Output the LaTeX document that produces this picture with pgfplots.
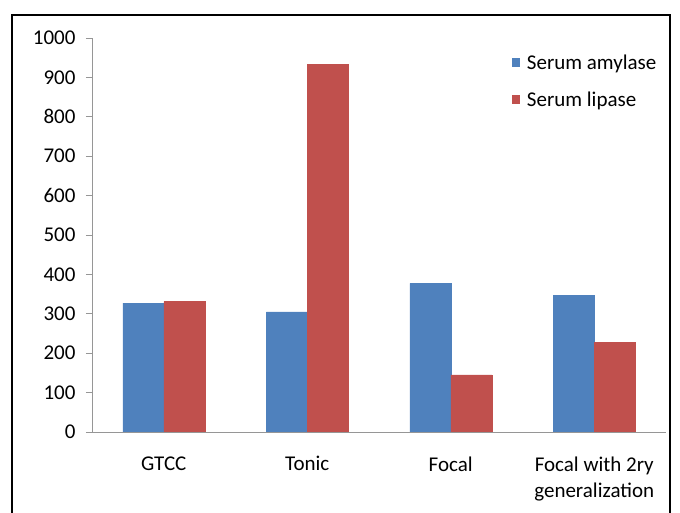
\documentclass[border=0pt]{standalone}
\usepackage{pgfplots}
\pgfplotsset{compat=1.18}
\usepackage{fontspec}
\setmainfont{Carlito}

\definecolor{amyblue}{RGB}{79,129,189}
\definecolor{lipred}{RGB}{192,80,77}
\definecolor{axgray}{RGB}{150,150,150}

\begin{document}
\begin{tikzpicture}
\useasboundingbox (0pt,0pt) rectangle (680pt,513pt);
% outer frame
\draw[line width=2pt] (12pt,0pt) -- (12pt,498pt) -- (670pt,498pt) -- (670pt,0pt);
\begin{axis}[
  at={(92pt,81pt)}, anchor=south west,
  scale only axis,
  width=574pt, height=394pt,
  ybar=0pt, bar width=41pt,
  xmin=-0.5, xmax=3.5,
  ymin=0, ymax=1000,
  ytick={0,100,...,1000},
  xtick={0,1,2,3},
  xticklabels={GTCC,Tonic,Focal,{Focal with 2ry\\generalization}},
  major x tick style={draw=none},
  extra x ticks={-0.5,0.5,1.5,2.5,3.5},
  extra x tick labels={},
  extra x tick style={tick style={axgray, line width=0.8pt}, major tick length=6pt, tick align=outside},
  axis x line=bottom, axis y line=left,
  axis line style={-, axgray, line width=0.8pt},
  y tick style={axgray, line width=0.8pt},
  tick align=outside, major tick length=6pt,
  font=\fontsize{21}{25}\selectfont,
  /pgf/number format/assume math mode=true,
  /pgf/number format/1000 sep={},
  yticklabel style={font=\fontsize{21}{25}\selectfont, xshift=-7pt},
  xticklabel style={font=\fontsize{21}{26}\selectfont, align=center, yshift=-15pt},
  legend style={draw=none, at={(0.726,0.968)}, anchor=north west,
    font=\fontsize{21}{25}\selectfont, row sep=17pt, fill=none},
  legend image code/.code={\fill[#1, draw=none] (0pt,-4.5pt) rectangle (8pt,4.5pt);
    \path[draw=none, fill=none] (0pt,0pt) -- (13pt,0pt);},
  legend cell align=left,
]
\addplot[fill=amyblue, draw=amyblue] coordinates {(0,327) (1,305) (2,377) (3,346)};
\addplot[fill=lipred, draw=lipred] coordinates {(0,331) (1,933) (2,145) (3,227)};
\legend{Serum amylase, Serum lipase}
\end{axis}
\end{tikzpicture}
\end{document}
